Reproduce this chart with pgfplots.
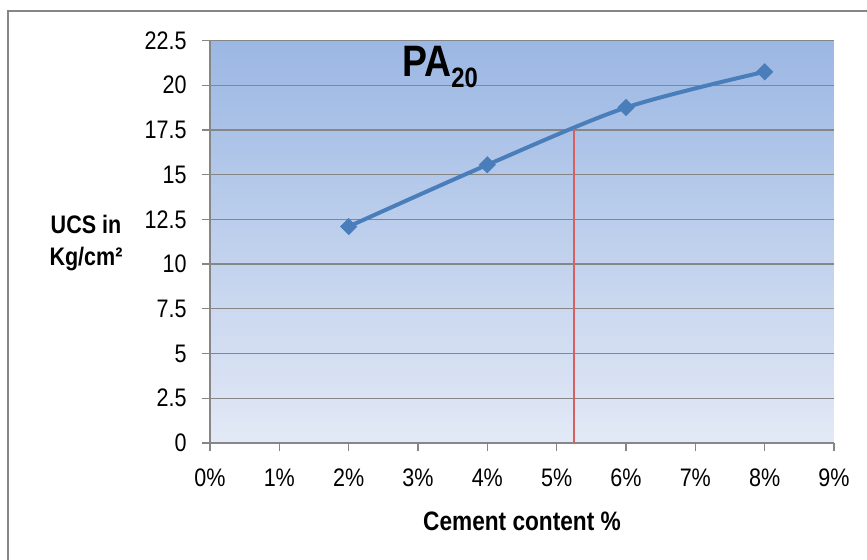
\documentclass[border=0pt]{standalone}
\usepackage{fontspec}
\setmainfont{Liberation Sans}[FakeStretch=0.85]
\usepackage{pgfplots}
\pgfplotsset{compat=1.18}
\definecolor{bgtop}{RGB}{155,183,227}
\definecolor{bgbot}{RGB}{227,233,246}
\definecolor{serie}{RGB}{74,126,187}
\definecolor{redl}{RGB}{215,95,95}
\definecolor{gridc}{RGB}{134,134,134}
\newcommand{\tlfont}{\fontsize{19}{22}\selectfont}
\begin{document}
\begin{tikzpicture}
\useasboundingbox (-157.5pt,-87.75pt) rectangle (492.75pt,332.25pt);
\fill[white] (-157.5pt,-87.75pt) rectangle (492.75pt,332.25pt);
\draw[gridc, line width=1.5pt] (-151.5pt,-87.75pt) -- (-151.5pt,324pt) -- (492.75pt,324pt);
\begin{axis}[
  at={(0pt,0pt)}, anchor=south west,
  scale only axis, width=468pt, height=301.9pt,
  xmin=0, xmax=9, ymin=0, ymax=22.5,
  xtick={0,1,...,9},
  ytick={0,2.5,5,7.5,10,12.5,15,17.5,20,22.5},
  axis x line=bottom, axis y line=left,
  axis line style={-, draw=gridc, line width=1pt},
  tick align=outside, major tick length=6pt,
  tick style={draw=gridc, line width=1pt},
  ymajorgrids, grid style={draw=gridc, line width=1pt},
  axis background/.style={top color=bgtop, bottom color=bgbot},
  /pgf/number format/assume math mode=true,
  xticklabel={\tlfont\pgfmathprintnumber[assume math mode=true]{\tick}\%},
  yticklabel={\tlfont\pgfmathprintnumber[assume math mode=true, fixed]{\tick}},
  xticklabel style={yshift=-10pt},
  yticklabel style={xshift=-8pt},
  clip=false,
]
\addplot[serie, line width=3pt, smooth, mark=square*, mark size=4.3pt,
  mark options={rotate=45, fill=serie, draw=serie, line width=0.5pt}]
  coordinates {(2,12.1) (4,15.55) (6,18.75) (8,20.75)};
\addplot[draw=redl, line width=1pt, mark=none] coordinates {(5.25,0) (5.25,17.55)};
\node[anchor=base west, inner sep=0pt] at (axis cs:2.77,20.46)
  {\fontsize{33}{36}\selectfont\bfseries PA\raisebox{-8.25pt}{\fontsize{21}{24}\selectfont\bfseries 20}};
\end{axis}
\node[align=center, font=\fontsize{19}{24}\selectfont\bfseries] at (-93pt,150pt) {UCS in\\Kg/cm²};
\node[anchor=base, inner sep=0pt, font=\fontsize{20}{24}\selectfont\bfseries] at (234pt,-65.25pt) {Cement content \%};
\end{tikzpicture}
\end{document}
